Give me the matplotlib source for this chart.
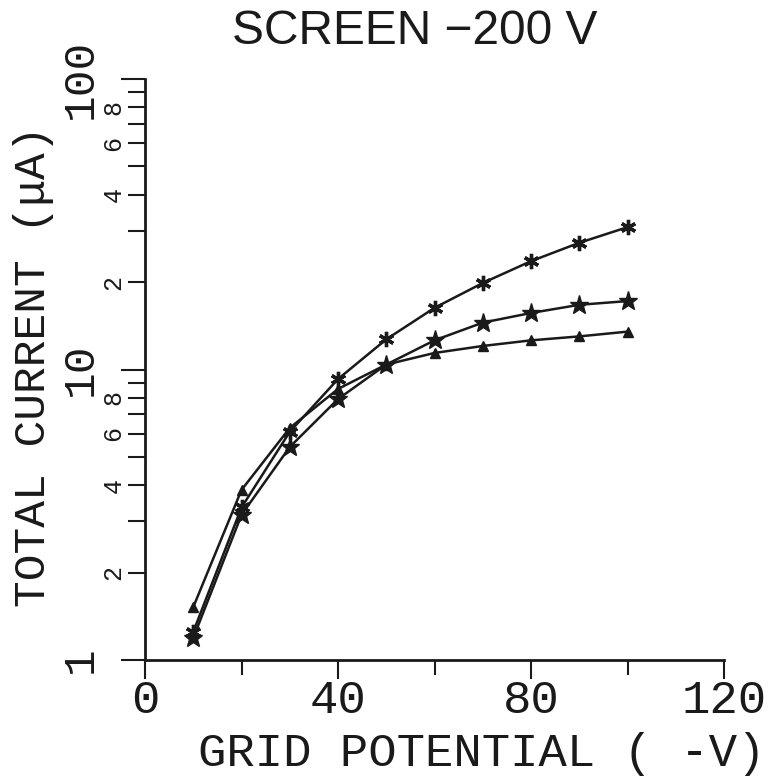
import matplotlib
matplotlib.use("Agg")
import matplotlib.pyplot as plt
from matplotlib.ticker import FixedLocator, FixedFormatter

plt.rcParams['font.family'] = ['Liberation Mono', 'DejaVu Sans Mono', 'DejaVu Sans']

# ---- data ----
grid_potential = [10, 20, 30, 40, 50, 60, 70, 80, 90, 100]
current_asterisk = [1.25, 3.35, 6.10, 9.27, 12.7, 16.3, 19.85, 23.6, 27.3, 30.9]
current_star = [1.19, 3.16, 5.41, 7.91, 10.4, 12.6, 14.5, 15.65, 16.7, 17.2]
current_triangle = [1.52, 3.85, 6.29, 8.57, 10.4, 11.4, 12.05, 12.6, 13.0, 13.5]

x_major_ticks = [0, 40, 80, 120]
x_major_labels = ["0", "40", "80", "120"]
x_minor_ticks = [20, 60, 100]
y_major_ticks = [1, 10, 100]
y_major_labels = ["1", "10", "100"]
y_minor_ticks = [2, 3, 4, 5, 6, 7, 8, 9, 20, 30, 40, 50, 60, 70, 80, 90]
y_minor_labels = ["2", "", "4", "", "6", "", "8", "",
                  "2", "", "4", "", "6", "", "8", ""]

title = "SCREEN \u2212200 V"
xlabel = "GRID POTENTIAL ( -V)"
ylabel = "TOTAL CURRENT (\u03bcA)"

W, H = 768, 777
fig = plt.figure(figsize=(W / 100, H / 100), dpi=100)
ax = fig.add_axes([145 / W, 1 - 660 / H, (724 - 145) / W, (660 - 79) / H])

lc = "#1a1a1a"
ax.plot(grid_potential, current_asterisk, color=lc, lw=1.8,
        marker=(6, 2, 0), markersize=11, markeredgewidth=2.4)
ax.plot(grid_potential, current_star, color=lc, lw=1.8,
        marker="*", markersize=14)
ax.plot(grid_potential, current_triangle, color=lc, lw=1.8,
        marker="^", markersize=7)

ax.set_yscale("log")
ax.set_xlim(0, 120)
ax.set_ylim(1, 100)

ax.xaxis.set_major_locator(FixedLocator(x_major_ticks))
ax.xaxis.set_major_formatter(FixedFormatter(x_major_labels))
ax.xaxis.set_minor_locator(FixedLocator(x_minor_ticks))
ax.yaxis.set_major_locator(FixedLocator(y_major_ticks))
ax.yaxis.set_major_formatter(FixedFormatter(y_major_labels))
ax.yaxis.set_minor_locator(FixedLocator(y_minor_ticks))
ax.yaxis.set_minor_formatter(FixedFormatter(y_minor_labels))

for s in ["top", "right"]:
    ax.spines[s].set_visible(False)
for s in ["left", "bottom"]:
    ax.spines[s].set_linewidth(2.0)
    ax.spines[s].set_color(lc)

ax.tick_params(axis="x", which="major", length=14, width=1.5, pad=0,
               labelsize=34, colors=lc)
ax.tick_params(axis="x", which="minor", length=11, width=1.5, colors=lc)
ax.tick_params(axis="y", which="major", length=17, width=1.5, pad=15,
               labelsize=32, colors=lc, labelrotation=90)
ax.tick_params(axis="y", which="minor", length=12, width=1.5, pad=2,
               labelsize=18, colors=lc, labelrotation=90)
for lab in ax.get_yticklabels(which="both"):
    lab.set_verticalalignment("center")

fig.text(415 / W, 1 - 32 / H, title, ha="center", va="center",
         fontsize=34.5, color=lc, family=["Liberation Sans", "DejaVu Sans"])
fig.text(482 / W, 1 - 754 / H, xlabel, ha="center", va="center",
         fontsize=34, color=lc)
fig.text(34 / W, 1 - 366 / H, ylabel, ha="center", va="center",
         rotation=90, fontsize=32, color=lc)

fig.savefig("out.png", dpi=100)
